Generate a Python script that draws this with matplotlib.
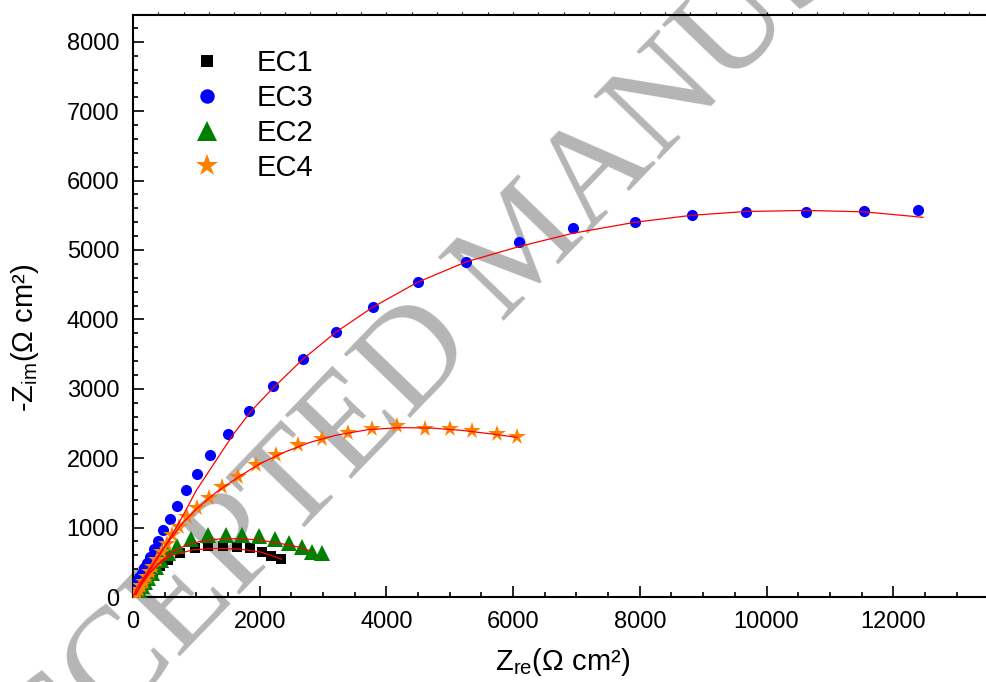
import numpy as np
import matplotlib.pyplot as plt
from matplotlib.ticker import MultipleLocator

plt.rcParams['font.family'] = ['Liberation Sans', 'DejaVu Sans']
plt.rcParams['mathtext.default'] = 'regular'

# --- data (ohm cm2) ---
ec1_x = [28, 60, 107, 171, 234, 313, 423, 550, 739, 979, 1186, 1413, 1643, 1844, 2038, 2186, 2333]
ec1_y = [29, 72, 130, 202, 274, 360, 447, 533, 634, 702, 730, 730, 720, 702, 653, 595, 545]
ec1_fit_x = [40, 120, 250, 400, 607, 949, 1318, 1686, 2002, 2212, 2344]
ec1_fit_y = [40, 160, 330, 470, 600, 680, 700, 690, 650, 590, 545]

ec3_x = [20, 40, 60, 96, 139, 181, 223, 276, 328, 397, 476, 581, 702, 829, 1012, 1212, 1507,
         1833, 2211, 2685, 3206, 3790, 4500, 5253, 6095, 6938, 7926, 8821, 9678, 10631, 11541, 12393]
ec3_y = [70, 150, 221, 284, 350, 413, 486, 581, 687, 811, 961, 1124, 1316, 1537, 1777, 2049, 2353,
         2684, 3040, 3429, 3818, 4179, 4539, 4827, 5111, 5313, 5403, 5509, 5552, 5552, 5562, 5580]
ec3_fit_x = [0, 60, 150, 330, 560, 760, 1000, 1370, 1590, 1870, 2211, 2685, 3206, 3790, 4500,
             5253, 6095, 6938, 7926, 8821, 9678, 10631, 11541, 12470]
ec3_fit_y = [0, 130, 250, 500, 811, 1124, 1537, 2049, 2353, 2684, 3012, 3429, 3818, 4179, 4539,
             4827, 5050, 5240, 5400, 5500, 5555, 5570, 5550, 5471]

ec2_x = [45, 92, 139, 186, 234, 297, 360, 440, 554, 687, 923, 1186, 1465, 1728, 1991, 2238,
         2464, 2660, 2833, 2979]
ec2_y = [43, 100, 158, 216, 274, 346, 430, 533, 638, 735, 831, 889, 898, 889, 879, 840,
         782, 725, 653, 630]
ec2_fit_x = [40, 120, 250, 400, 600, 845, 1100, 1400, 1700, 2000, 2317, 2633, 2791]
ec2_fit_y = [40, 170, 340, 480, 640, 750, 810, 840, 840, 820, 773, 716, 667]

ec4_x = [30, 60, 92, 123, 171, 218, 265, 318, 371, 450, 529, 617, 728, 860, 1018, 1201, 1412,
         1659, 1949, 2265, 2606, 2979, 3386, 3774, 4169, 4611, 5006, 5359, 5738, 6063]
ec4_y = [15, 58, 100, 158, 216, 288, 360, 437, 533, 653, 764, 893, 1013, 1148, 1287, 1431, 1581,
         1725, 1902, 2046, 2190, 2277, 2370, 2425, 2460, 2425, 2416, 2396, 2349, 2310]
ec4_fit_x = [50, 150, 300, 500, 750, 1000, 1300, 1650, 2000, 2400, 2800, 3200, 3700, 4200,
             4700, 5200, 5700, 6063]
ec4_fit_y = [40, 230, 430, 720, 1030, 1270, 1500, 1720, 1920, 2090, 2230, 2330, 2410, 2440,
             2435, 2400, 2345, 2300]

W, H = 986, 682
fig = plt.figure(figsize=(W / 100, H / 100), dpi=100)
ax = fig.add_axes([133 / W, 1 - 597 / H, (W - 133) / W, (597 - 15) / H])
ax.patch.set_visible(False)

# watermark behind everything
fig.text(0.535, 0.635, "ACCEPTED MANUSCRIPT", rotation=46, rotation_mode='anchor',
         ha='center', va='center', fontsize=100, color='#b5b5b5',
         family=['Liberation Serif', 'DejaVu Serif'], zorder=-1)

red = '#ff0000'
# fitted curves
for fx, fy in [(ec1_fit_x, ec1_fit_y), (ec3_fit_x, ec3_fit_y),
               (ec2_fit_x, ec2_fit_y), (ec4_fit_x, ec4_fit_y)]:
    ax.plot(fx, fy, color=red, lw=0.9, zorder=4)

# measured points
ax.plot(ec1_x, ec1_y, 's', color='black', ms=6.5, mew=0, label='EC1', zorder=3)
ax.plot(ec3_x, ec3_y, 'o', color='#0000ff', ms=8, mew=0, label='EC3', zorder=3)
ax.plot(ec2_x, ec2_y, '^', color='#008000', ms=11, mew=0, label='EC2', zorder=3)
ax.plot(ec4_x, ec4_y, '*', color='#ff8000', ms=13, mew=0, label='EC4', zorder=3)

ax.set_xlim(0, (W - 133) / 0.06335)
ax.set_ylim(0, (597 - 15) / 0.0694)

ax.xaxis.set_major_locator(MultipleLocator(2000))
ax.xaxis.set_minor_locator(MultipleLocator(500))
ax.yaxis.set_major_locator(MultipleLocator(1000))
ax.yaxis.set_minor_locator(MultipleLocator(200))
ax.tick_params(which='both', direction='in', width=1.2, labelsize=17, pad=10,
               top=False, right=False)
ax.tick_params(which='major', length=8)
ax.tick_params(which='minor', length=3.5)

for side in ['left', 'bottom', 'top']:
    ax.spines[side].set_linewidth(1.5)
ax.spines['right'].set_visible(False)

# tiny outward ticks along the top frame
sec = ax.secondary_xaxis('top')
sec.set_xticks(np.arange(400, 13400, 400))
sec.tick_params(direction='out', length=2, width=0.8, labeltop=False)
sec.spines['top'].set_visible(False)

fig.text(563 / W, 1 - 670 / H, r"Z$_{re}$(Ω cm²)", ha='center', va='baseline', fontsize=21)
fig.text(33 / W, 1 - 338 / H, r"-Z$_{im}$(Ω cm²)", ha='center', va='baseline', fontsize=21,
         rotation=90, rotation_mode='anchor')

ax.legend(loc='upper left', bbox_to_anchor=(0.047, 0.962), frameon=False, fontsize=21,
          markerscale=1.3, labelspacing=0.24, handletextpad=0.96, handlelength=1.5,
          borderaxespad=0)

fig.savefig('out.png', dpi=100)
